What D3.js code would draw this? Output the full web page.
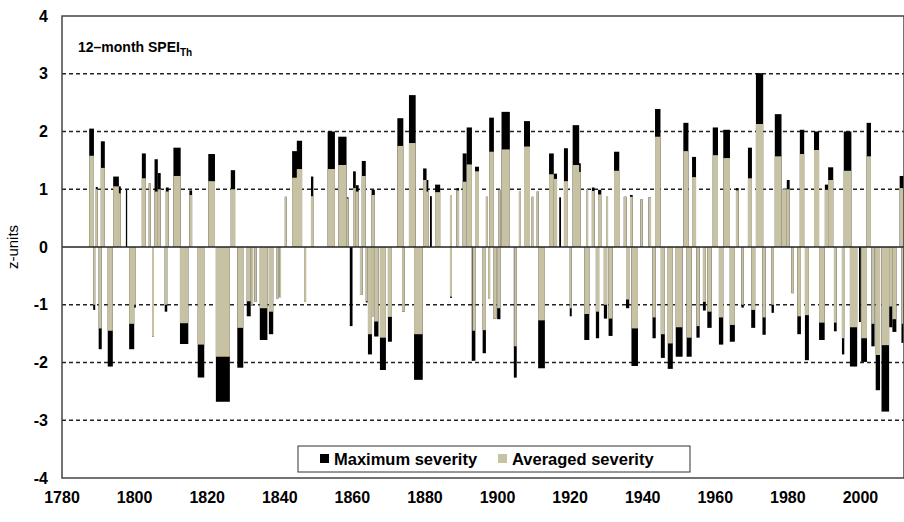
<!DOCTYPE html>
<html>
<head>
<meta charset="utf-8">
<script src="https://cdn.jsdelivr.net/npm/d3@7"></script>
<style>
  body { margin: 0; background: #fff; }
  svg text { font-family: "Liberation Sans", Arial, sans-serif; }
</style>
</head>
<body>
<div id="chart"></div>
<script>
// wet events (positive SPEI): start year, duration (years), averaged and maximum severity
var wetStart = [1787.5, 1789.3, 1790.7, 1794.1, 1795.5, 1797.6, 1802.0, 1803.9, 1805.5, 1806.4,
                1808.6, 1810.7, 1815.1, 1820.3, 1826.5, 1841.4, 1843.4, 1844.7, 1848.6, 1853.2,
                1856.1, 1858.4, 1860.2, 1861.0, 1862.6, 1865.3, 1872.4, 1875.6, 1879.5, 1880.3,
                1881.4, 1882.8, 1886.9, 1888.7, 1890.4, 1891.5, 1893.8, 1896.8, 1897.7, 1900.3,
                1901.1, 1905.9, 1907.3, 1909.4, 1910.8, 1914.2, 1915.5, 1917.0, 1918.3, 1920.7,
                1922.4, 1924.4, 1926.0, 1927.7, 1929.9, 1932.1, 1934.8, 1936.5, 1939.4, 1941.6,
                1943.4, 1951.2, 1953.6, 1959.3, 1962.2, 1965.7, 1969.0, 1971.2, 1976.4, 1978.3,
                1979.7, 1983.3, 1987.2, 1990.2, 1991.1, 1995.4, 2001.7, 2010.8];
var wetDur   = [1.3, 0.55, 1.1, 1.57, 0.7, 0.35, 1.1, 0.55, 0.9, 0.8,
                0.8, 2.0, 0.75, 1.85, 1.2, 0.45, 1.45, 1.45, 0.65, 2.0,
                2.3, 0.55, 0.75, 0.75, 1.1, 0.9, 1.65, 1.85, 0.95, 0.65,
                0.5, 1.4, 0.55, 0.7, 1.1, 1.45, 1.1, 0.55, 1.3, 0.55,
                2.3, 0.55, 1.65, 0.45, 0.55, 1.3, 0.9, 0.5, 1.1, 1.8,
                0.55, 0.55, 0.75, 0.9, 0.55, 1.45, 0.75, 0.75, 0.55, 0.7,
                1.5, 1.4, 1.1, 1.45, 1.85, 0.75, 1.1, 2.0, 1.85, 1.4,
                0.8, 1.2, 1.4, 0.9, 1.4, 2.1, 1.2, 1.1];
var wetAvg   = [1.58, 1.0, 1.37, 1.05, 0.93, 0, 1.19, 1.10, 0.96, 1.0,
                0.96, 1.23, 0.90, 1.14, 1.0, 0.87, 1.2, 1.35, 0.88, 1.35,
                1.42, 0.84, 1.02, 0.96, 1.23, 0.9, 1.75, 1.80, 1.16, 0.96,
                0, 0.95, 0.9, 0.98, 1.13, 1.43, 1.31, 0.87, 1.65, 0.99,
                1.69, 0.97, 1.74, 0.87, 0.96, 1.26, 1.18, 0, 1.14, 1.42,
                1.3, 1.0, 0.97, 0.91, 0.87, 1.32, 0.87, 0.87, 0.83, 0.86,
                1.91, 1.66, 1.21, 1.59, 1.54, 0.98, 1.19, 2.13, 1.57, 1.0,
                1.0, 1.61, 1.68, 0.99, 1.16, 1.32, 1.57, 1.02];
var wetMax   = [2.05, 1.04, 1.83, 1.22, 1.05, 1.0, 1.62, 1.10, 1.52, 1.28,
                1.03, 1.72, 0.98, 1.61, 1.33, 0.87, 1.66, 1.84, 1.22, 2.0,
                1.91, 0.86, 1.31, 1.07, 1.49, 0.99, 2.23, 2.63, 1.36, 1.16,
                0.88, 1.08, 0.9, 1.02, 1.62, 2.07, 1.39, 0.87, 2.24, 0.99,
                2.34, 0.97, 2.18, 0.87, 0.96, 1.62, 1.27, 0.86, 1.71, 2.11,
                1.45, 1.0, 1.03, 0.99, 0.87, 1.65, 0.87, 0.9, 0.83, 0.86,
                2.39, 2.15, 1.56, 2.07, 2.03, 1.02, 1.72, 3.01, 2.30, 1.0,
                1.16, 2.03, 2.0, 1.08, 1.38, 2.0, 2.15, 1.23];

// dry events (negative SPEI)
var dryStart = [1788.6, 1790.1, 1792.6, 1798.5, 1799.8, 1804.8, 1808.3, 1812.5, 1817.4, 1822.4,
                1828.3, 1830.9, 1832.1, 1833.0, 1834.5, 1837.0, 1839.0, 1839.9, 1846.7, 1859.3,
                1862.1, 1863.7, 1864.3, 1865.4, 1866.0, 1867.6, 1869.8, 1873.7, 1877.0, 1886.9,
                1892.9, 1893.1, 1895.9, 1897.4, 1898.8, 1899.9, 1904.5, 1904.6, 1911.2, 1919.9,
                1923.9, 1927.1, 1929.3, 1930.6, 1935.4, 1936.9, 1942.7, 1945.0, 1946.9, 1949.1,
                1952.1, 1954.8, 1956.6, 1957.8, 1961.0, 1964.0, 1967.2, 1969.9, 1973.0, 1975.5,
                1981.0, 1982.6, 1984.7, 1988.6, 1992.7, 1994.9, 1997.1, 1999.6, 2000.2, 2003.0,
                2004.2, 2005.8, 2007.9, 2008.8, 2011.3];
var dryDur   = [0.55, 0.85, 1.4, 1.4, 0.55, 0.55, 0.7, 2.3, 1.8, 3.85,
                1.65, 1.1, 0.55, 0.65, 2.1, 1.2, 0.65, 0.45, 0.55, 0.75,
                0.75, 0.55, 1.1, 0.55, 1.2, 1.65, 1.1, 0.75, 2.4, 0.55,
                0.4, 0.8, 0.9, 0.55, 0.9, 0.9, 0.4, 0.7, 1.85, 0.55,
                1.4, 0.9, 0.9, 1.1, 0.9, 1.8, 0.9, 1.1, 1.4, 1.9,
                1.4, 0.9, 0.8, 1.2, 1.2, 1.4, 0.65, 1.1, 0.9, 0.65,
                0.65, 1.0, 1.1, 1.55, 0.75, 0.65, 2.0, 0.5, 1.6, 0.9,
                1.2, 2.1, 0.9, 1.1, 0.6];
var dryAvg   = [-1.0, -1.41, -1.45, -1.33, -1.0, -1.55, -1.0, -1.32, -1.69, -1.90,
                -1.40, -0.94, -1.0, -0.95, -1.06, -1.12, -0.89, -0.87, -0.95, 0,
                -0.83, -0.94, -1.51, -1.2, -1.29, -1.57, -1.21, -1.12, -1.51, -0.86,
                0, -1.45, -1.44, -0.9, -1.24, -1.06, 0, -1.72, -1.27, -1.06,
                -1.16, -1.12, -1.0, -1.24, -0.91, -1.41, -1.22, -1.51, -1.67, -1.39,
                -1.57, -1.37, -0.95, -1.12, -1.22, -1.35, -1.0, -1.09, -1.22, -1.0,
                -0.8, -1.2, -1.18, -1.31, -1.31, -1.58, -1.39, 0, -1.58, -1.33,
                -1.87, -1.70, -1.03, -1.25, -1.33];
var dryMax   = [-1.09, -1.77, -2.07, -1.77, -1.05, -1.55, -1.12, -1.68, -2.26, -2.68,
                -2.09, -1.20, -1.0, -0.95, -1.61, -1.51, -0.89, -0.87, -0.95, -1.37,
                -0.83, -0.96, -1.86, -1.2, -1.55, -2.13, -1.64, -1.12, -2.30, -0.88,
                -1.97, -1.97, -1.84, -0.9, -1.24, -1.25, -2.26, -2.26, -2.10, -1.2,
                -1.61, -1.58, -1.24, -1.54, -1.06, -2.06, -1.58, -1.92, -2.11, -1.90,
                -1.90, -1.57, -1.1, -1.40, -1.69, -1.64, -1.05, -1.40, -1.52, -1.14,
                -0.8, -1.51, -1.96, -1.61, -1.46, -1.86, -2.07, -1.3, -1.99, -1.72,
                -2.48, -2.85, -1.39, -1.47, -1.66];

var xTicks = [1780, 1800, 1820, 1840, 1860, 1880, 1900, 1920, 1940, 1960, 1980, 2000];
var yTicks = [-4, -3, -2, -1, 0, 1, 2, 3, 4];
var gridValues = [-3, -2, -1, 1, 2, 3];

var avgColor = "#c8c2a4";
var maxColor = "#000000";

var svgWidth = 904, svgHeight = 522;
var margin = { top: 16, right: 0, bottom: 44, left: 62 };
var width = svgWidth - margin.left - margin.right,
    height = svgHeight - margin.top - margin.bottom;

var xScale = d3.scaleLinear().domain([1780, 2012]).range([0, width]);
var yScale = d3.scaleLinear().domain([-4, 4]).range([height, 0]);

var svg = d3.select("#chart").append("svg")
            .attr("width", svgWidth)
            .attr("height", svgHeight);

var chart = svg.append("g")
               .attr("transform", "translate(" + margin.left + "," + margin.top + ")");

// dashed grid lines
chart.selectAll(".grid")
     .data(gridValues)
     .enter().append("line")
     .attr("x1", 0).attr("x2", width)
     .attr("y1", function(d) { return yScale(d); })
     .attr("y2", function(d) { return yScale(d); })
     .attr("stroke", "#222")
     .attr("stroke-width", 1.5)
     .attr("stroke-dasharray", "4,3");

function buildEvents(starts, durs, avgs, maxs) {
    return starts.map(function(s, i) {
        return { start: s, dur: durs[i], avg: avgs[i], max: maxs[i] };
    });
}
var events = buildEvents(wetStart, wetDur, wetAvg, wetMax)
               .concat(buildEvents(dryStart, dryDur, dryAvg, dryMax));

function barX(d) { return xScale(d.start); }
function barW(d) { return Math.max(1.3, xScale(d.start + d.dur) - xScale(d.start)); }

// maximum severity, from 0 to max
chart.selectAll(".maxbar")
     .data(events)
     .enter().append("rect")
     .attr("x", barX)
     .attr("width", barW)
     .attr("y", function(d) { return yScale(Math.max(0, d.max)); })
     .attr("height", function(d) { return Math.abs(yScale(d.max) - yScale(0)); })
     .attr("fill", maxColor);

// averaged severity drawn over it
chart.selectAll(".avgbar")
     .data(events.filter(function(d) { return d.avg !== 0; }))
     .enter().append("rect")
     .attr("x", barX)
     .attr("width", barW)
     .attr("y", function(d) { return yScale(Math.max(0, d.avg)); })
     .attr("height", function(d) { return Math.abs(yScale(d.avg) - yScale(0)); })
     .attr("fill", avgColor);

// zero line
chart.append("line")
     .attr("x1", 0).attr("x2", width)
     .attr("y1", yScale(0)).attr("y2", yScale(0))
     .attr("stroke", "#222")
     .attr("stroke-width", 1.5);

// plot frame
chart.append("rect")
     .attr("x", 0).attr("y", 0)
     .attr("width", width).attr("height", height)
     .attr("fill", "none")
     .attr("stroke", "#444")
     .attr("stroke-width", 1.5);

// y tick labels
chart.selectAll(".ylab")
     .data(yTicks)
     .enter().append("text")
     .attr("x", -14)
     .attr("y", function(d) { return yScale(d); })
     .attr("dy", "0.35em")
     .attr("text-anchor", "end")
     .style("font-size", "16px")
     .style("font-weight", "bold")
     .text(function(d) { return d; });

// x tick labels
chart.selectAll(".xlab")
     .data(xTicks)
     .enter().append("text")
     .attr("x", function(d) { return xScale(d); })
     .attr("y", height + 25)
     .attr("text-anchor", "middle")
     .style("font-size", "16px")
     .style("font-weight", "bold")
     .text(function(d) { return d; });

// y axis label
svg.append("text")
   .attr("transform", "rotate(-90)")
   .attr("x", -247)
   .attr("y", 18)
   .attr("text-anchor", "middle")
   .style("font-size", "15px")
   .text("z-units");

// title
var title = chart.append("text")
                 .attr("x", 16)
                 .attr("y", 36)
                 .style("font-size", "14px")
                 .style("font-weight", "bold")
                 .text("12\u2013month SPEI");
title.append("tspan")
     .attr("dy", 4)
     .style("font-size", "10px")
     .text("Th");

// legend
var legend = svg.append("g").attr("transform", "translate(298,446)");
legend.append("rect")
      .attr("width", 392).attr("height", 26)
      .attr("fill", "#fff")
      .attr("stroke", "#333")
      .attr("stroke-width", 1);
var legendItems = [
    { label: "Maximum severity", color: maxColor, x: 22 },
    { label: "Averaged severity", color: avgColor, x: 200 }
];
legendItems.forEach(function(item) {
    legend.append("rect")
          .attr("x", item.x).attr("y", 8)
          .attr("width", 9).attr("height", 9)
          .attr("fill", item.color);
    legend.append("text")
          .attr("x", item.x + 14).attr("y", 18.5)
          .style("font-size", "16.5px")
          .style("font-weight", "bold")
          .text(item.label);
});
</script>
</body>
</html>
